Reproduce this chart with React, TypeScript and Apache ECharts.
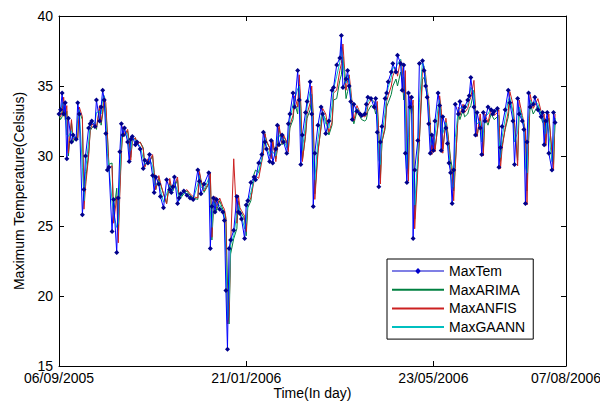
import React, { useEffect, useRef } from 'react';
import * as echarts from 'echarts';

// day index (position along the time axis) of each observation
const dayIndex = [
  0, 1, 2, 3, 4, 5, 6, 8, 9, 11,
  12, 13, 15, 16, 17, 19, 20, 21, 23, 24,
  26, 27, 28, 29, 30, 31, 32, 34, 35, 37,
  38, 39, 40, 41, 42, 44, 45, 46, 47, 49,
  50, 52, 54, 55, 57, 58, 60, 61, 62, 64,
  65, 67, 69, 71, 72, 73, 74, 76, 77, 78,
  80, 82, 84, 86, 89, 90, 91, 93, 96, 97,
  98, 99, 100, 101, 103, 105, 106, 107, 108, 109,
  110, 112, 114, 115, 116, 117, 119, 120, 121, 123,
  125, 126, 128, 130, 131, 132, 133, 135, 136, 137,
  139, 140, 141, 143, 144, 146, 147, 148, 150, 151,
  153, 154, 155, 156, 158, 159, 161, 162, 163, 164,
  166, 168, 169, 171, 173, 175, 176, 178, 180, 181,
  182, 184, 185, 186, 187, 188, 189, 191, 193, 194,
  196, 197, 198, 200, 202, 203, 204, 205, 206, 207,
  209, 210, 211, 213, 214, 216, 217, 219, 220, 221,
  222, 223, 224, 225, 226, 227, 228, 230, 231, 233,
  234, 235, 236, 237, 238, 239, 240, 241, 243, 244,
  245, 246, 248, 249, 250, 251, 252, 253, 254, 256,
  257, 259, 260, 262, 263, 264, 266, 267, 268, 270,
  271, 272, 273, 275, 277, 278, 279, 281, 282, 283,
  284, 286, 288, 289, 291, 292, 294, 295, 297, 298,
  299, 300, 301, 302, 304, 305, 307, 309, 310, 311,
  312, 313, 314, 316, 317, 318,
];

const maxTem = [
  33.0, 33.3, 34.5, 33.0, 33.8, 29.8, 32.7, 31.0, 31.5, 31.2,
  33.8, 33.0, 25.8, 27.6, 30.0, 32.0, 32.3, 32.5, 32.1, 34.0,
  32.5, 33.5, 34.7, 34.0, 31.6, 29.0, 29.2, 24.6, 26.9, 23.1,
  27.0, 30.3, 32.3, 31.5, 32.0, 31.0, 29.6, 31.2, 31.4, 30.8,
  31.0, 30.5, 29.1, 29.7, 29.5, 30.1, 28.6, 27.4, 28.5, 28.0,
  27.1, 26.3, 28.3, 27.6, 27.4, 27.8, 28.5, 26.6, 27.0, 27.3,
  27.5, 27.2, 27.0, 26.9, 29.0, 28.2, 27.3, 28.0, 28.8, 23.4,
  26.4, 27.0, 26.0, 26.9, 26.2, 26.0, 25.4, 20.4, 16.2, 23.4,
  24.0, 24.7, 27.1, 26.0, 25.9, 25.5, 24.1, 26.5, 26.8, 28.1,
  28.5, 28.3, 29.5, 30.1, 31.7, 31.0, 30.5, 29.6, 31.1, 29.5,
  30.5, 32.2, 30.8, 31.5, 31.0, 30.2, 32.3, 33.0, 34.5, 33.5,
  36.1, 34.0, 29.4, 31.5, 33.1, 33.9, 35.3, 33.0, 26.4, 30.2,
  32.2, 33.5, 33.0, 31.6, 32.5, 34.7, 34.9, 36.5, 37.0, 38.6,
  34.9, 35.5, 36.1, 35.0, 33.9, 32.6, 33.7, 33.2, 33.0, 32.9,
  33.0, 33.7, 34.2, 34.1, 33.5, 34.1, 31.7, 27.8, 31.0, 32.1,
  34.1, 34.5, 35.3, 36.0, 36.6, 36.0, 37.2, 36.6, 34.7, 36.5,
  30.2, 28.1, 34.5, 33.5, 34.2, 24.1, 29.0, 31.1, 36.6, 36.8,
  36.1, 35.0, 34.2, 32.3, 30.2, 31.5, 30.4, 32.5, 34.5, 33.6,
  30.4, 32.8, 32.0, 30.9, 29.5, 28.8, 26.6, 29.0, 33.7, 33.0,
  33.9, 33.2, 33.5, 34.0, 34.3, 35.6, 33.5, 31.5, 33.1, 32.0,
  30.1, 33.1, 32.5, 33.5, 33.3, 33.0, 33.2, 33.4, 29.2, 30.6,
  32.1, 33.3, 34.7, 33.8, 32.5, 29.4, 34.1, 33.0, 32.5, 31.9,
  26.6, 31.0, 34.5, 33.5, 33.7, 34.2, 33.3, 32.8, 33.1, 30.8,
  32.5, 33.1, 30.2, 29.0, 33.1, 32.4,
];

const maxArima = [
  33.0, 32.6, 32.8, 33.8, 32.6, 33.2, 30.0, 32.4, 31.0, 31.4,
  31.2, 33.2, 32.6, 26.8, 28.2, 30.2, 31.8, 32.0, 32.2, 31.9,
  33.4, 32.2, 33.0, 34.0, 33.4, 31.5, 29.4, 29.5, 25.9, 27.7,
  24.7, 27.8, 30.4, 32.0, 31.4, 31.8, 31.0, 29.9, 31.1, 31.3,
  30.8, 31.0, 30.6, 29.3, 29.7, 29.6, 30.0, 28.8, 27.6, 28.4,
  28.0, 27.3, 26.6, 28.1, 27.6, 27.5, 27.8, 28.3, 26.9, 27.0,
  27.3, 27.5, 27.2, 27.0, 26.9, 28.8, 28.2, 27.4, 28.0, 28.7,
  24.0, 26.2, 26.9, 26.1, 26.8, 26.2, 26.0, 25.5, 21.0, 18.0,
  23.0, 24.1, 24.8, 26.8, 26.1, 25.9, 25.5, 24.3, 26.3, 26.8,
  28.7, 29.0, 28.8, 29.8, 30.3, 31.6, 31.0, 30.6, 29.9, 31.1,
  29.8, 30.6, 32.0, 30.8, 31.4, 31.0, 30.4, 32.0, 32.6, 33.8,
  33.0, 35.1, 33.4, 29.7, 31.4, 32.7, 33.3, 34.4, 32.6, 27.3,
  30.4, 32.0, 33.0, 32.6, 31.5, 32.2, 34.0, 34.1, 35.4, 35.8,
  37.1, 34.1, 34.6, 35.1, 34.2, 33.3, 32.3, 33.2, 32.8, 32.6,
  32.5, 32.6, 33.2, 33.6, 33.5, 33.0, 33.5, 31.6, 28.4, 31.0,
  31.9, 33.5, 33.8, 34.4, 35.0, 35.5, 35.0, 36.0, 35.5, 34.0,
  35.4, 30.4, 28.7, 33.8, 33.0, 33.6, 25.5, 29.4, 31.1, 35.5,
  35.6, 35.1, 34.2, 33.6, 32.0, 30.4, 31.4, 30.5, 32.2, 33.8,
  33.1, 30.5, 32.4, 31.8, 30.9, 29.8, 29.2, 27.5, 29.4, 33.1,
  32.6, 33.3, 32.8, 33.0, 33.4, 33.6, 34.7, 33.0, 31.4, 32.7,
  31.8, 30.3, 32.7, 32.2, 33.0, 32.8, 32.6, 32.8, 32.9, 29.6,
  30.7, 31.9, 32.8, 33.9, 33.2, 32.2, 29.7, 33.5, 32.6, 32.2,
  31.7, 27.5, 31.0, 33.8, 33.0, 33.2, 33.6, 32.8, 32.4, 32.7,
  30.8, 32.2, 32.7, 30.4, 29.4, 32.7,
];

const maxAnfis = [
  33.0, 32.8, 33.2, 34.2, 32.8, 33.6, 30.2, 32.6, 31.2, 31.4,
  31.3, 33.5, 32.8, 26.2, 27.8, 30.0, 31.8, 32.2, 32.4, 32.0,
  33.6, 32.4, 33.2, 34.3, 33.8, 31.6, 29.1, 29.3, 25.2, 27.1,
  23.8, 27.3, 30.2, 32.1, 31.5, 31.9, 31.0, 29.7, 31.1, 31.3,
  30.8, 31.0, 30.5, 29.2, 29.8, 29.6, 30.1, 28.8, 27.6, 28.6,
  28.1, 27.3, 26.6, 28.4, 27.8, 27.6, 27.9, 28.5, 26.9, 27.2,
  27.4, 27.6, 27.3, 27.1, 27.0, 28.9, 28.3, 27.5, 28.1, 28.8,
  24.2, 26.6, 27.1, 26.3, 27.0, 26.4, 26.2, 25.6, 18.0, 18.6,
  23.6, 29.8, 25.2, 27.2, 26.3, 26.1, 25.7, 24.6, 26.6, 27.0,
  28.2, 28.6, 28.4, 29.6, 30.2, 31.6, 31.1, 30.6, 29.8, 31.1,
  29.6, 30.6, 32.2, 30.9, 31.5, 31.0, 30.3, 32.2, 32.9, 34.3,
  33.5, 35.8, 33.8, 29.6, 31.5, 33.0, 33.8, 35.0, 32.9, 26.9,
  30.2, 32.2, 33.4, 33.0, 31.7, 32.4, 34.5, 34.7, 36.1, 36.6,
  38.0, 34.7, 35.4, 35.8, 34.8, 33.7, 32.5, 33.6, 33.1, 32.9,
  32.8, 32.9, 33.6, 34.0, 33.9, 33.3, 33.9, 31.6, 28.0, 31.0,
  32.1, 33.9, 34.3, 35.0, 35.7, 36.3, 35.7, 36.9, 36.3, 34.5,
  36.1, 30.0, 28.2, 34.3, 33.3, 34.0, 24.8, 29.0, 31.1, 36.2,
  36.4, 35.8, 34.8, 34.0, 32.2, 30.1, 31.4, 30.3, 32.4, 34.3,
  33.4, 30.2, 32.7, 31.9, 30.8, 29.4, 28.8, 26.8, 29.1, 33.5,
  32.9, 33.7, 33.1, 33.4, 33.9, 34.2, 35.4, 33.3, 31.4, 33.0,
  31.9, 30.0, 33.0, 32.4, 33.4, 33.2, 32.9, 33.1, 33.3, 29.1,
  30.5, 32.0, 33.2, 34.6, 33.7, 32.4, 29.3, 34.0, 32.9, 32.4,
  31.8, 26.5, 31.0, 34.4, 33.4, 33.6, 34.1, 33.2, 32.7, 33.0,
  30.7, 32.4, 33.0, 30.1, 29.0, 33.0,
];

const maxGaann = [
  33.0, 33.1, 33.8, 33.6, 33.4, 31.5, 31.4, 31.8, 31.3, 31.3,
  32.6, 33.3, 29.2, 26.8, 28.9, 31.0, 32.1, 32.4, 32.3, 33.1,
  33.2, 33.0, 34.1, 34.3, 32.7, 30.2, 29.2, 26.8, 25.9, 24.9,
  25.2, 28.7, 31.3, 31.9, 31.8, 31.5, 30.3, 30.4, 31.3, 31.1,
  30.9, 30.7, 29.8, 29.4, 29.6, 29.8, 29.3, 28.0, 27.9, 28.2,
  27.6, 26.7, 27.3, 27.9, 27.5, 27.6, 28.1, 27.5, 26.8, 27.1,
  27.4, 27.3, 27.1, 26.9, 28.0, 28.6, 27.8, 27.6, 28.4, 26.1,
  24.9, 26.7, 26.5, 26.4, 26.5, 26.1, 25.7, 22.9, 18.3, 19.8,
  23.7, 24.3, 25.9, 26.5, 25.9, 25.7, 24.8, 25.3, 26.6, 27.4,
  28.3, 28.4, 28.9, 29.8, 30.9, 31.3, 30.7, 30.0, 30.3, 30.3,
  30.0, 31.3, 31.5, 31.1, 31.2, 30.6, 31.2, 32.6, 33.7, 34.0,
  34.8, 35.0, 31.7, 30.4, 32.3, 33.5, 34.6, 34.1, 29.7, 28.3,
  31.2, 32.8, 33.2, 32.3, 32.0, 33.6, 34.8, 35.7, 36.7, 37.8,
  36.7, 35.2, 35.8, 35.5, 34.4, 33.2, 33.1, 33.4, 33.1, 32.9,
  32.9, 33.3, 33.9, 34.1, 33.8, 33.8, 32.9, 29.7, 29.4, 31.5,
  33.1, 34.3, 34.9, 35.6, 36.3, 36.3, 36.6, 36.9, 35.6, 35.6,
  33.3, 29.1, 31.3, 34.0, 33.8, 29.1, 26.5, 30.0, 33.8, 36.7,
  36.4, 35.5, 34.6, 33.2, 31.2, 30.8, 30.9, 31.4, 33.5, 34.0,
  32.0, 31.6, 32.4, 31.4, 30.2, 29.1, 27.7, 27.8, 31.3, 33.3,
  33.4, 33.5, 33.3, 33.7, 34.1, 34.9, 34.5, 32.5, 32.3, 32.5,
  31.0, 31.6, 32.8, 33.0, 33.4, 33.1, 33.1, 33.3, 31.3, 29.9,
  31.3, 32.7, 34.0, 34.2, 33.1, 31.0, 31.7, 33.5, 32.7, 32.2,
  29.2, 28.8, 32.7, 34.0, 33.6, 33.9, 33.7, 33.0, 32.9, 31.9,
  31.6, 32.8, 31.6, 29.6, 31.0, 32.7,
];

const tickDays = [0, 120, 240, 325];
const tickLabels = ['06/09/2005', '21/01/2006', '23/05/2006', '07/08/2006'];
const seriesNames = ['MaxTem', 'MaxARIMA', 'MaxANFIS', 'MaxGAANN'];

// legend glyph for the observed series: a thin line with a small diamond marker
const lineWithMarker = 'path://M0,6.5L52,6.5L52,7.5L0,7.5Z M26,4L29,7L26,10L23,7Z';

export default function App() {
  const ref = useRef<HTMLDivElement>(null);
  useEffect(() => {
    if (!ref.current) return;
    const chart = echarts.init(ref.current, null, { renderer: 'svg' });
    const font = '"Liberation Sans", Arial, Helvetica, sans-serif';
    const pair = (vals: number[]) => dayIndex.map((d, i) => [d, vals[i]]);
    const labelFor = (v: number) => {
      const i = tickDays.indexOf(v);
      return i >= 0 ? tickLabels[i] : '';
    };
    const axisLine = { show: true, onZero: false, lineStyle: { color: '#000', width: 1 } };
    const tick = { show: true, inside: true, length: 5, lineStyle: { color: '#000', width: 1 } };
    chart.setOption({
      animation: false,
      backgroundColor: '#fff',
      textStyle: { fontFamily: font },
      grid: { left: 59, top: 16, width: 507, height: 350, containLabel: false, outerBoundsMode: 'none' },
      legend: {
        data: seriesNames.map((n, i) =>
          i === 0
            ? { name: n, icon: lineWithMarker, itemStyle: { color: '#0000cc' } }
            : { name: n, itemStyle: { opacity: 0 } }),
        orient: 'vertical',
        left: 387,
        top: 259,
        itemWidth: 52,
        itemHeight: 14,
        itemGap: 4.7,
        padding: [5, 8, 5, 4],
        borderColor: '#000',
        borderWidth: 1,
        backgroundColor: '#fff',
        textStyle: { fontSize: 14, color: '#000', fontFamily: font },
      },
      xAxis: [
        {
          type: 'value', min: 0, max: 325, position: 'bottom',
          name: 'Time(In day)', nameLocation: 'middle', nameGap: 20, nameMoveOverlap: false,
          nameTextStyle: { fontSize: 14, color: '#000', fontFamily: font },
          axisLine, axisTick: { ...tick, customValues: tickDays },
          axisLabel: { customValues: tickDays, formatter: labelFor, fontSize: 14, color: '#000', margin: 5, fontFamily: font },
          splitLine: { show: false },
        },
        {
          type: 'value', min: 0, max: 325, position: 'top',
          axisLine, axisTick: { ...tick, customValues: tickDays },
          axisLabel: { show: false }, splitLine: { show: false },
        },
      ],
      yAxis: [
        {
          type: 'value', min: 15, max: 40, interval: 5, position: 'left',
          name: 'Maximum Temperature(Celsius)', nameLocation: 'middle', nameGap: 33, nameMoveOverlap: false,
          nameTextStyle: { fontSize: 14, color: '#000', fontFamily: font },
          axisLine, axisTick: tick,
          axisLabel: { fontSize: 14, color: '#000', margin: 6, fontFamily: font },
          splitLine: { show: false },
        },
        {
          type: 'value', min: 15, max: 40, interval: 5, position: 'right',
          axisLine, axisTick: tick, axisLabel: { show: false }, splitLine: { show: false },
        },
      ],
      series: [
        {
          name: 'MaxTem', type: 'line', data: pair(maxTem), z: 5,
          symbol: 'diamond', symbolSize: 5, showSymbol: true,
          lineStyle: { color: '#0000ff', width: 1 },
          itemStyle: { color: '#00008b' },
        },
        {
          name: 'MaxARIMA', type: 'line', data: pair(maxArima), z: 2,
          symbol: 'none', lineStyle: { color: '#008040', width: 1 }, itemStyle: { color: '#008040' },
        },
        {
          name: 'MaxANFIS', type: 'line', data: pair(maxAnfis), z: 3,
          symbol: 'none', lineStyle: { color: '#cc2020', width: 1 }, itemStyle: { color: '#cc2020' },
        },
        {
          name: 'MaxGAANN', type: 'line', data: pair(maxGaann), z: 4,
          symbol: 'none', lineStyle: { color: '#00bfbf', width: 1 }, itemStyle: { color: '#00bfbf' },
        },
      ],
    });
    return () => chart.dispose();
  }, []);
  return (
    <div
      ref={ref}
      style={{ position: 'absolute', left: 0, top: 0, width: 600, height: 403 }}
    />
  );
}
